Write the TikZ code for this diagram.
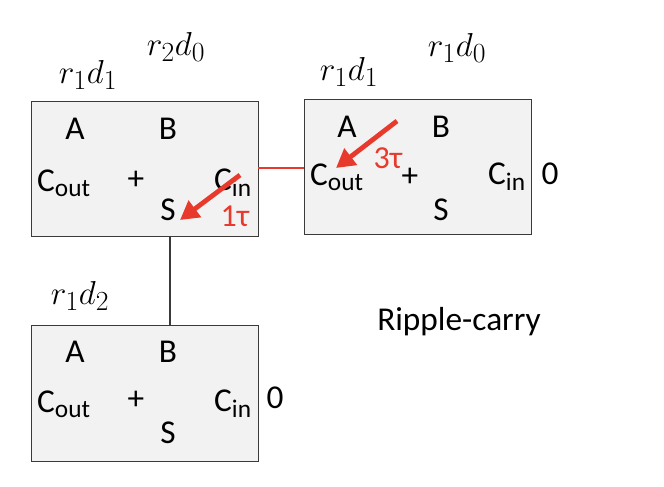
\documentclass[tikz,border=0pt]{standalone}
\usepackage{fontspec}
\setmainfont{Carlito}
\usetikzlibrary{arrows.meta}
\definecolor{boxfill}{HTML}{F2F2F2}
\definecolor{boxline}{HTML}{3A3A3A}
\definecolor{myred}{HTML}{E8392D}
\tikzset{
  adder/.style={draw=boxline, line width=1.1pt, fill=boxfill},
  lbl/.style={font=\fontsize{25}{27}\selectfont, inner sep=0pt},
  mlbl/.style={font=\fontsize{28.5}{30}\selectfont, inner sep=0pt},
  redlbl/.style={font=\fontsize{24}{26}\selectfont, inner sep=0pt, text=myred},
  bigarrow/.style={draw=myred, line width=3.6pt, -{Triangle[length=14pt,width=15pt]}},
  wire/.style={draw=boxline, line width=0.9pt},
  redwire/.style={draw=myred, line width=0.9pt},
}
\newcommand{\subtxt}[1]{\textsubscript{\fontsize{19}{21}\selectfont #1}}
\begin{document}
\begin{tikzpicture}[x=0.75pt,y=-0.75pt]
\useasboundingbox (0,0) rectangle (664,486);
% boxes
\node[adder, minimum width=170.25pt, minimum height=101.25pt, anchor=north west, inner sep=0pt] (b1) at (31,101) {};
\node[adder, minimum width=170.25pt, minimum height=101.25pt, anchor=north west, inner sep=0pt] (b2) at (304,99) {};
\node[adder, minimum width=170.25pt, minimum height=102pt, anchor=north west, inner sep=0pt] (b3) at (31,325) {};
% connectors
\coordinate (w1a) at (258,168);
\coordinate (w1b) at (304,168);
\draw[redwire] (w1a) -- (w1b);
\coordinate (v1a) at (170,237);
\coordinate (v1b) at (170,325);
\draw[wire] (v1a) -- (v1b);
% box 1 contents
\node[lbl] (a1) at (75,129) {A};
\node[lbl] (bb1) at (168,129) {B};
\node[lbl] (co1) at (64,183) {C\subtxt{out}};
\node[lbl] (p1) at (136,180) {+};
\node[lbl] (ci1) at (233,183) {C\subtxt{in}};
\node[lbl] (s1) at (168,210) {S};
\node[redlbl] (t1) at (235,216) {1τ};
\coordinate (r1s) at (240,175);
\coordinate (r1e) at (180,220);
\draw[bigarrow] (r1s) -- (r1e);
\node[mlbl] (l1a) at (88,75) {$r_1d_1$};
\node[mlbl] (l1b) at (176,47) {$r_2d_0$};
% box 2 contents
\node[lbl] (a2) at (347,127) {A};
\node[lbl] (bb2) at (441,127) {B};
\node[lbl] (co2) at (337,177) {C\subtxt{out}};
\node[lbl] (p2) at (410,177) {+};
\node[lbl] (ci2) at (507,177) {C\subtxt{in}};
\node[lbl] (s2) at (441,210) {S};
\node[lbl] (z2) at (550,174) {0};
\node[redlbl] (t2) at (388,158) {3τ};
\coordinate (r2s) at (397,121);
\coordinate (r2e) at (336,168);
\draw[bigarrow] (r2s) -- (r2e);
\node[mlbl] (l2a) at (349,72) {$r_1d_1$};
\node[mlbl] (l2b) at (457,48) {$r_1d_0$};
% box 3 contents
\node[lbl] (a3) at (75,352) {A};
\node[lbl] (bb3) at (168,352) {B};
\node[lbl] (co3) at (64,404) {C\subtxt{out}};
\node[lbl] (p3) at (136,400) {+};
\node[lbl] (ci3) at (233,404) {C\subtxt{in}};
\node[lbl] (s3) at (168,433) {S};
\node[lbl] (z3) at (275,398) {0};
\node[mlbl] (l3a) at (80,296) {$r_1d_2$};
\node[lbl] (rc) at (459,322) {Ripple-carry};
\end{tikzpicture}
\end{document}
